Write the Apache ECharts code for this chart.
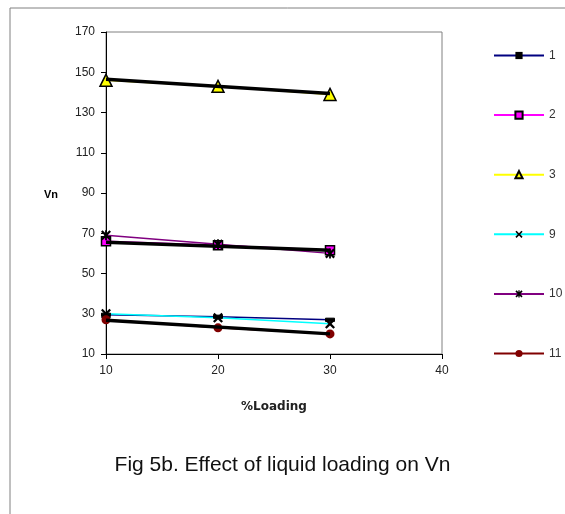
<!DOCTYPE html>
<html>
<head>
<meta charset="utf-8">
<script src="https://cdn.jsdelivr.net/npm/echarts@6/dist/echarts.min.js"></script>
<style>html,body{margin:0;padding:0;background:#fff}#c{width:565px;height:514px}</style>
</head>
<body>
<div id="c"></div>
<script>
// Data
const xLoading = [10, 20, 30];
const s1 = [29.5, 28.5, 27];
const s2 = [66, 64, 61.5];
const s3 = [146, 143, 139];
const s9 = [30, 28, 25];
const s10 = [69, 64.5, 60];
const s11 = [27, 23, 20];
// black trend lines (end points)
const trendX = [10, 30];
const trend3 = [146.5, 139.5];
const trendMid = [65.5, 61.5];
const trend11 = [26.8, 20];
const yTicks = [10, 30, 50, 70, 90, 110, 130, 150, 170];
const legendNames = ['1', '2', '3', '9', '10', '11'];

const pts = (xs, ys) => xs.map((x, i) => [x, ys[i]]);

const X_PATH = 'path://M0,1.6 L1.6,0 L5,3.4 L8.4,0 L10,1.6 L6.6,5 L10,8.4 L8.4,10 L5,6.6 L1.6,10 L0,8.4 L3.4,5 Z';
const STAR_PATH = 'path://M0,1.6 L1.6,0 L5,3.4 L8.4,0 L10,1.6 L6.6,5 L10,8.4 L8.4,10 L5,6.6 L1.6,10 L0,8.4 L3.4,5 Z M4.1,0 L5.9,0 L5.9,10 L4.1,10 Z';
const DASH_PATH = 'path://M0,0 L10,0 L10,3.6 L0,3.6 Z';

function lineSeries(name, data, color, symbol, size, itemStyle) {
  return {
    name: name, type: 'line', data: pts(xLoading, data),
    symbol: symbol, symbolSize: size, symbolKeepAspect: true,
    lineStyle: { color: color, width: 1.5 },
    itemStyle: itemStyle,
    z: 3
  };
}
function trend(data) {
  return {
    name: 'trend', type: 'line', data: pts(trendX, data), symbol: 'none',
    lineStyle: { color: '#000', width: 3.5 }, z: 4, silent: true
  };
}

const chart = echarts.init(document.getElementById('c'), null, { renderer: 'canvas' });
chart.setOption({
  animation: false,
  backgroundColor: '#fff',
  grid: { left: 106, right: 123, top: 32, bottom: 160, show: true, borderColor: '#808080', borderWidth: 1, backgroundColor: 'transparent' },
  xAxis: {
    type: 'value', min: 10, max: 40, interval: 10,
    axisLine: { lineStyle: { color: '#000', width: 1 } },
    axisTick: { show: true, length: 5, lineStyle: { color: '#000' } },
    axisLabel: { color: '#222', fontFamily: 'Arial, Liberation Sans', fontSize: 12, margin: 11 },
    splitLine: { show: false },
    name: '%Loading', nameLocation: 'middle', nameGap: 47,
    nameTextStyle: { fontFamily: 'DejaVu Sans', fontWeight: 'bold', fontSize: 12, color: '#222' }
  },
  yAxis: {
    type: 'value', min: 10, max: 170,
    axisLine: { show: true, lineStyle: { color: '#000', width: 1 } },
    axisTick: { show: true, length: 5, lineStyle: { color: '#000' }, customValues: yTicks },
    axisLabel: { color: '#222', fontFamily: 'Arial, Liberation Sans', fontSize: 12, margin: 11, customValues: yTicks },
    splitLine: { show: false }
  },
  legend: {
    data: legendNames, orient: 'vertical', left: 488, top: 44.5,
    itemWidth: 50, itemHeight: 9, itemGap: 47.6,
    textStyle: { color: '#333', fontFamily: 'Arial, Liberation Sans', fontSize: 12 },
    selectedMode: false
  },
  graphic: [
    { type: 'line', shape: { x1: 10, y1: 8, x2: 565, y2: 8 }, style: { stroke: '#808080', lineWidth: 1 } },
    { type: 'line', shape: { x1: 10, y1: 8, x2: 10, y2: 514 }, style: { stroke: '#808080', lineWidth: 1 } },
    { type: 'text', left: 44, top: 189, style: { text: 'Vn', font: 'bold 11px Arial, Liberation Sans', fill: '#000' } },
    { type: 'text', left: 'center', top: 455, style: { text: 'Fig 5b. Effect of liquid loading on Vn', font: '21px Arial, Liberation Sans', fill: '#111' } }
  ],
  series: [
    lineSeries('1', s1, '#000080', DASH_PATH, 9, { color: '#000', borderColor: '#000' }),
    lineSeries('2', s2, '#FF00FF', 'rect', 9, { color: '#FF00FF', borderColor: '#000', borderWidth: 1.5 }),
    lineSeries('3', s3, '#FFFF00', 'triangle', 12, { color: '#FFFF00', borderColor: '#000', borderWidth: 1.5 }),
    lineSeries('9', s9, '#00FFFF', X_PATH, 10, { color: '#000' }),
    lineSeries('10', s10, '#800080', STAR_PATH, 10, { color: '#000' }),
    lineSeries('11', s11, '#800000', 'circle', 9, { color: '#800000' }),
    trend(trend3), trend(trendMid), trend(trend11)
  ]
});
</script>
</body>
</html>
